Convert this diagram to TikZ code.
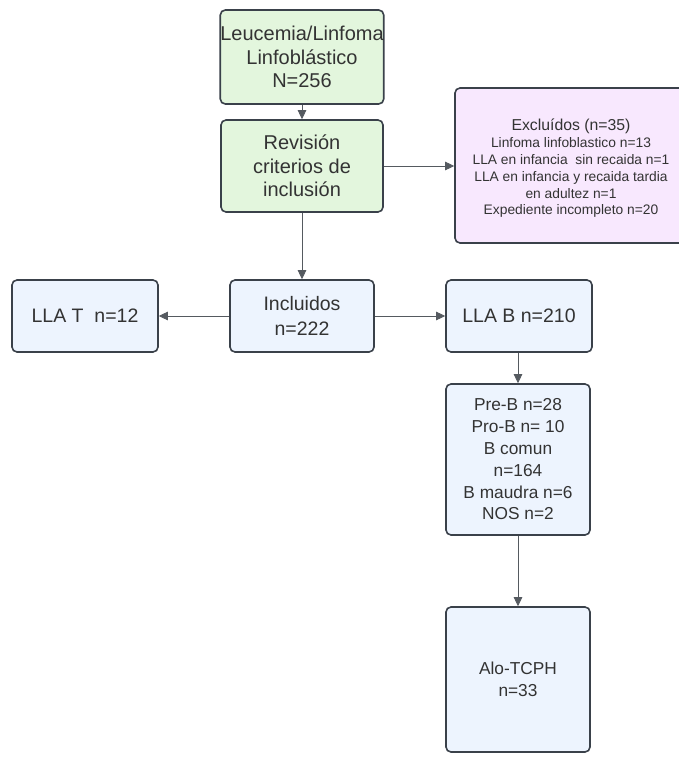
\documentclass[tikz,border=0pt]{standalone}
\usepackage{fontspec}
\setmainfont{Liberation Sans}
\usetikzlibrary{arrows.meta}
\definecolor{bordc}{HTML}{3A414A}
\definecolor{txtc}{HTML}{333333}
\definecolor{greenf}{HTML}{E3F6DD}
\definecolor{bluef}{HTML}{EDF4FE}
\definecolor{pinkf}{HTML}{F8E8FE}
\definecolor{linec}{HTML}{555A60}
\tikzset{
  box/.style={draw=bordc, line width=1.6pt, rounded corners=5pt, align=center,
    text=txtc, inner sep=0pt, anchor=center},
  gbox/.style={box, fill=greenf, font=\fontsize{20}{23.5}\selectfont},
  bbox/.style={box, fill=bluef, font=\fontsize{19.5}{25}\selectfont},
  sbox/.style={box, fill=bluef, font=\fontsize{17.3}{21.8}\selectfont},
  pbox/.style={box, fill=pinkf},
  ptext/.style={align=center, text=txtc, inner sep=0pt, font=\fontsize{13.8}{16.8}\selectfont},
  conn/.style={draw=linec, line width=0.8pt, -{Triangle[length=9pt,width=8.5pt]}},
}
\begin{document}
\begin{tikzpicture}[x=1pt,y=-1pt]
\useasboundingbox (0,0) rectangle (678,757);
\node[gbox, minimum width=162, minimum height=94] (leu) at (302,57)
  {Leucemia/Linfoma\\Linfoblástico\\N=256};
\node[gbox, minimum width=162, minimum height=92] (rev) at (302,166)
  {Revisión\\criterios de\\inclusión};
\node[pbox, minimum width=232, minimum height=155] (exc) at (571,165.5) {};
\node[ptext] (exct) at ([yshift=-3pt]exc.center)
  {{\fontsize{15.8}{16.8}\selectfont Excluídos (n=35)}\\Linfoma linfoblastico n=13\\LLA en infancia \ sin recaida n=1\\LLA en infancia y recaida tardia\\en adultez n=1\\Expediente incompleto n=20};
\node[bbox, minimum width=146, minimum height=72] (llat) at (85,316)
  {LLA T \ n=12};
\node[bbox, minimum width=144, minimum height=72] (inc) at (302,316)
  {Incluidos\\n=222};
\node[bbox, minimum width=146, minimum height=72] (llab) at (519,316)
  {LLA B n=210};
\node[sbox, minimum width=144, minimum height=151] (preb) at (518,459.5)
  {Pre-B n=28\\Pro-B n= 10\\B comun\\n=164\\B maudra n=6\\NOS n=2};
\node[sbox, minimum width=144, minimum height=145] (alo) at (518,679.5)
  {Alo-TCPH\\n=33};
\draw[conn] (leu) -- (rev);
\draw[conn] (rev) -- (rev.east -| exc.west);
\draw[conn] (rev) -- (inc);
\draw[conn] (inc) -- (llat);
\draw[conn] (inc) -- (llab);
\draw[conn] (llab.south -| preb.north) -- (preb);
\draw[conn] (preb) -- (alo);
\end{tikzpicture}
\end{document}
